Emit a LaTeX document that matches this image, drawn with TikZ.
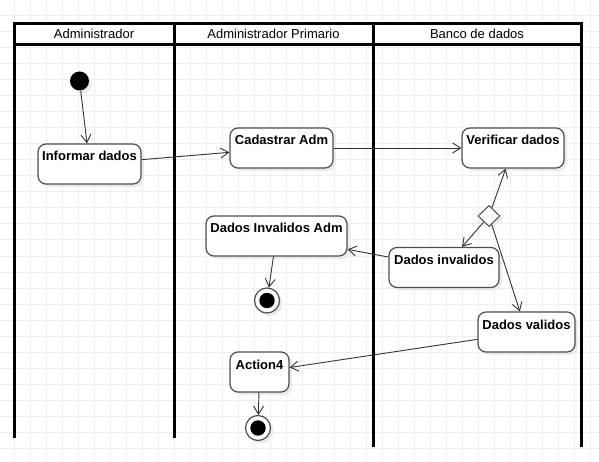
\documentclass[tikz,border=0pt]{standalone}
\usepackage{fontspec}
\setmainfont{Liberation Sans}
\usetikzlibrary{arrows.meta,shapes.geometric,shadows}
\definecolor{gridgray}{HTML}{EEEEEE}
\definecolor{boxgray}{HTML}{4D4D4D}
\tikzset{
	gridline/.style={draw=gridgray, line width=1pt},
	lane/.style={line width=3pt},
	shade/.style={drop shadow={shadow xshift=3pt, shadow yshift=-3pt, fill=black!8, opacity=1}},
	action/.style={draw=boxgray, fill=white, rounded corners=8pt, line width=1.2pt, shade,
		font=\fontsize{13}{15}\selectfont\bfseries, inner xsep=2pt, inner ysep=4pt,
		text height=13pt, text depth=19pt, minimum height=40pt},
	initial/.style={circle, fill=black, minimum size=19pt, inner sep=0pt, shade},
	final/.style={circle, draw=boxgray, fill=white, line width=1.2pt, minimum size=25pt, inner sep=0pt, shade,
		path picture={\fill[black] (path picture bounding box.center) circle (7.7pt);}},
	decision/.style={diamond, draw=boxgray, fill=white, line width=1pt, minimum width=22pt, minimum height=21pt, inner sep=0pt, shade},
	lanetitle/.style={anchor=base, font=\fontsize{13}{15}\selectfont},
	flow/.style={draw=black!80, line width=0.9pt, -{Straight Barb[length=8pt,width=10pt]}},
}
\begin{document}
\begin{tikzpicture}[x=1pt, y=-1pt]
	\useasboundingbox (0,0) rectangle (599,462);
	\fill[white] (0,0) rectangle (599,462);
	\foreach \x in {14,30,...,590} {
		\draw[gridline] (\x,0) -- (\x,462);
	}
	\foreach \y in {16,32,...,448} {
		\draw[gridline] (0,\y) -- (599,\y);
	}

	\fill[white] (14,24) rectangle (581,45);
	\draw[lane] (14,438) -- (14,24) -- (581,24) -- (581,447);
	\draw[lane] (14,45) -- (581,45);
	\draw[lane] (174,24) -- (174,438);
	\draw[lane] (373,24) -- (373,447);
	\node[lanetitle] (admtitle) at (94,39) {Administrador};
	\node[lanetitle] (primtitle) at (273.5,39) {Administrador Primario};
	\node[lanetitle] (bancotitle) at (477,39) {Banco de dados};

	\node[initial] (start) at (79.5,81) {};
	\node[action, minimum width=103pt] (inf) at (89.5,164) {Informar dados};
	\node[action, minimum width=103pt] (cad) at (281.5,148) {Cadastrar Adm};
	\node[action, minimum width=102pt] (ver) at (513,148) {Verificar dados};
	\node[decision] (dec) at (489,216) {};
	\node[action, minimum width=141pt] (dia) at (276.5,236) {Dados Invalidos Adm};
	\node[action, minimum width=110pt] (din) at (444,267.5) {Dados invalidos};
	\node[final] (end1) at (267,300.5) {};
	\node[action, minimum width=97pt] (dva) at (526.5,332) {Dados validos};
	\node[action, minimum width=59pt] (act) at (259.5,372) {Action4};
	\node[final] (end2) at (258,428) {};

	\draw[flow] (start) -- (inf);
	\draw[flow] (inf) -- (cad);
	\draw[flow] (cad) -- (ver);
	\draw[flow] (dec) -- (ver);
	\draw[flow] (dec) -- (din);
	\draw[flow] (dec) -- (dva);
	\draw[flow] (din) -- (dia);
	\draw[flow] (dia) -- (end1);
	\draw[flow] (dva) -- (act);
	\draw[flow] (act) -- (end2);
\end{tikzpicture}
\end{document}
